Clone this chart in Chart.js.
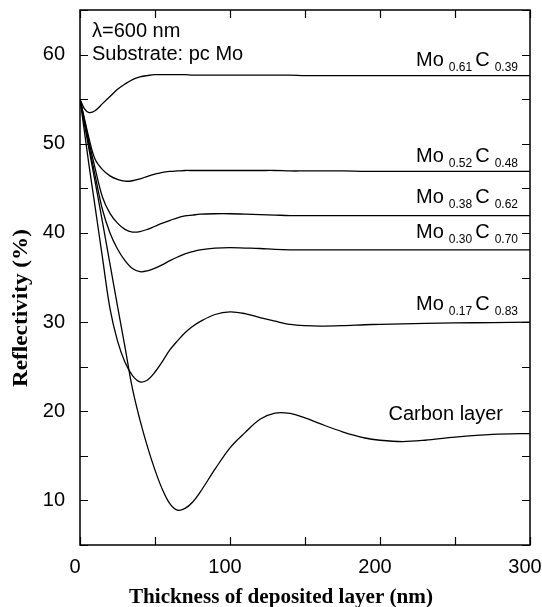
<!DOCTYPE html>
<html>
<head>
<meta charset="utf-8">
<script src="https://cdn.jsdelivr.net/npm/chart.js@4.4.1/dist/chart.umd.min.js"></script>
<style>
  html, body { margin: 0; padding: 0; background: #fff; }
  #wrap { width: 542px; height: 607px; }
</style>
</head>
<body>
<div id="wrap"><canvas id="refl"></canvas></div>
<script>
// thickness of deposited layer (nm), shared by all curves
const thickness = [0, 3, 6, 10, 15, 20, 25, 30, 35, 40, 45, 50, 55, 60, 65, 70, 75, 80, 90, 100,
  110, 120, 130, 140, 150, 160, 175, 190, 200, 215, 230, 250, 275, 300, 306];

// reflectivity (%)
const mo61 = [55, 53.9, 53.5, 53.7, 54.5, 55.3, 56.1, 56.7, 57.2, 57.5, 57.65, 57.75, 57.75, 57.75, 57.75, 57.75, 57.7, 57.7, 57.7, 57.7,
  57.7, 57.7, 57.7, 57.7, 57.65, 57.65, 57.65, 57.65, 57.65, 57.65, 57.65, 57.65, 57.65, 57.65, 57.65];
const mo52 = [55, 52.8, 50.6, 48.3, 47.1, 46.4, 46.0, 45.8, 45.85, 46.05, 46.35, 46.6, 46.8, 46.9, 46.95, 47.0, 47.0, 47.0, 47.0, 47.0,
  47.0, 47.0, 47.0, 46.95, 46.95, 46.95, 46.95, 46.9, 46.9, 46.9, 46.9, 46.9, 46.9, 46.9, 46.9];
const mo38 = [55, 52.6, 50.2, 47.3, 44.0, 42.2, 41.1, 40.4, 40.1, 40.15, 40.4, 40.75, 41.1, 41.4, 41.7, 41.9, 42.0, 42.1, 42.15, 42.15,
  42.1, 42.05, 42.0, 41.95, 41.95, 41.95, 41.95, 41.95, 41.95, 41.95, 41.95, 41.95, 41.95, 41.95, 41.95];
const mo30 = [55, 52.4, 49.8, 46.5, 42.6, 40.0, 38.2, 36.9, 36.0, 35.65, 35.75, 36.05, 36.45, 36.9, 37.3, 37.65, 37.9, 38.1, 38.3, 38.35,
  38.3, 38.25, 38.15, 38.1, 38.1, 38.1, 38.1, 38.1, 38.1, 38.1, 38.1, 38.1, 38.1, 38.1, 38.1];
const mo17 = [55, 51.3, 47.6, 43.0, 37.2, 31.5, 27.9, 25.5, 24.0, 23.3, 23.5, 24.4, 25.6, 26.9, 27.9, 28.8, 29.5, 30.05, 30.85, 31.15,
  30.95, 30.5, 30.1, 29.75, 29.6, 29.55, 29.6, 29.7, 29.75, 29.8, 29.85, 29.9, 29.95, 30.0, 30.0];
const carbon = [55, 52.2, 49.4, 45.8, 41.2, 36.5, 31.8, 27.2, 22.5, 19.0, 16.0, 13.4, 11.2, 9.6, 8.9, 9.1, 9.8, 10.9, 13.5, 15.9,
  17.6, 19.1, 19.8, 19.75, 19.25, 18.6, 17.7, 17.0, 16.75, 16.6, 16.75, 17.1, 17.4, 17.5, 17.5];

// curve labels: main text, subscripts, anchor (nm, %)
const labelMain = [["Mo", "C"], ["Mo", "C"], ["Mo", "C"], ["Mo", "C"], ["Mo", "C"], ["Carbon layer"]];
const labelSub = [["0.61", "0.39"], ["0.52", "0.48"], ["0.38", "0.62"], ["0.30", "0.70"], ["0.17", "0.83"], []];
const labelX = [292, 292, 292, 292, 292, 282];
const labelY = [58.7, 47.9, 43.4, 39.4, 31.3, 19.0];

const xTitle = "Thickness of deposited layer (nm)";
const yTitle = "Reflectivity (%)";

const SANS = "'Liberation Sans', Arial, sans-serif";
const SERIF = "'Liberation Serif', 'Times New Roman', serif";

function curve(data) {
  return {
    data: data,
    borderColor: "#000",
    borderWidth: 1.3,
    pointRadius: 0,
    fill: false,
    tension: 0.35,
    clip: { left: 0, top: 0, right: 12, bottom: 0 }
  };
}

// text stretched to a given width
function fitText(ctx, text, x, y, width) {
  const w = ctx.measureText(text).width;
  ctx.save();
  ctx.translate(x, y);
  ctx.scale(width / w, 1);
  ctx.fillText(text, 0, 0);
  ctx.restore();
}

// box frame with inward ticks on all sides, plus text
const frameAndText = {
  id: "frameAndText",
  afterDatasetsDraw(chart) {
    const { ctx, chartArea: a, scales: { x, y } } = chart;
    ctx.save();
    ctx.strokeStyle = "#000";
    ctx.lineWidth = 1.5;
    ctx.strokeRect(a.left, a.top, a.right - a.left, a.bottom - a.top);
    ctx.beginPath();
    x.ticks.forEach(t => {
      const px = Math.round(x.getPixelForValue(t.value)) + 0.5;
      ctx.moveTo(px, a.bottom); ctx.lineTo(px, a.bottom - 8);
      ctx.moveTo(px, a.top); ctx.lineTo(px, a.top + 8);
    });
    y.ticks.forEach(t => {
      const py = Math.round(y.getPixelForValue(t.value)) + 0.5;
      ctx.moveTo(a.left, py); ctx.lineTo(a.left + 8, py);
      ctx.moveTo(a.right, py); ctx.lineTo(a.right - 8, py);
    });
    ctx.lineWidth = 1.2;
    ctx.stroke();

    ctx.fillStyle = "#000";
    ctx.textBaseline = "alphabetic";
    ctx.textAlign = "left";
    ctx.font = "20px " + SANS;
    ctx.fillText("\u03bb=600 nm", a.left + 12, a.top + 27);
    ctx.fillText("Substrate: pc Mo", a.left + 12, a.top + 50);

    labelMain.forEach((main, i) => {
      const sub = labelSub[i];
      const parts = [];
      main.forEach((m, j) => {
        parts.push({ t: m, size: 20, dy: 0, gap: sub[j] ? 5 : 0 });
        if (sub[j]) parts.push({ t: sub[j], size: 12, dy: 5, gap: 3 });
      });
      let w = 0;
      parts.forEach(p => { ctx.font = p.size + "px " + SANS; p.w = ctx.measureText(p.t).width; w += p.w + p.gap; });
      w -= parts[parts.length - 1].gap;
      let px = x.getPixelForValue(labelX[i]) - w;
      const py = y.getPixelForValue(labelY[i]);
      parts.forEach(p => {
        ctx.font = p.size + "px " + SANS;
        ctx.fillText(p.t, px, py + p.dy);
        px += p.w + p.gap;
      });
    });

    // axis titles
    ctx.font = "bold 20px " + SERIF;
    fitText(ctx, xTitle, 129, 603, 304);
    ctx.save();
    ctx.translate(27, 387);
    ctx.rotate(-Math.PI / 2);
    fitText(ctx, yTitle, 0, 0, 158);
    ctx.restore();
    ctx.restore();
  }
};

new Chart(document.getElementById("refl"), {
  type: "line",
  data: {
    labels: thickness,
    datasets: [curve(mo61), curve(mo52), curve(mo38), curve(mo30), curve(mo17), curve(carbon)]
  },
  options: {
    responsive: true,
    maintainAspectRatio: false,
    animation: false,
    events: [],
    layout: { padding: { top: 10, right: 12, left: 0, bottom: 0 } },
    plugins: { legend: { display: false }, tooltip: { enabled: false } },
    scales: {
      x: {
        type: "linear",
        min: 0,
        max: 300,
        afterFit: s => { s.height = 62; s.paddingLeft = 0; s.paddingRight = 0; },
        grid: { display: false, drawTicks: false },
        border: { display: false },
        ticks: {
          stepSize: 50,
          padding: 10,
          labelOffset: -5,
          maxRotation: 0,
          color: "#000",
          font: { family: SANS, size: 20 },
          callback: v => (v % 100 === 0 ? v : "")
        }
      },
      y: {
        min: 5,
        max: 65,
        afterFit: s => { s.width = 80; s.paddingTop = 0; s.paddingBottom = 0; },
        grid: { display: false, drawTicks: false },
        border: { display: false },
        ticks: {
          stepSize: 5,
          padding: 15,
          color: "#000",
          font: { family: SANS, size: 20 },
          callback: v => (v % 10 === 0 ? v : "")
        }
      }
    }
  },
  plugins: [frameAndText]
});
</script>
</body>
</html>
